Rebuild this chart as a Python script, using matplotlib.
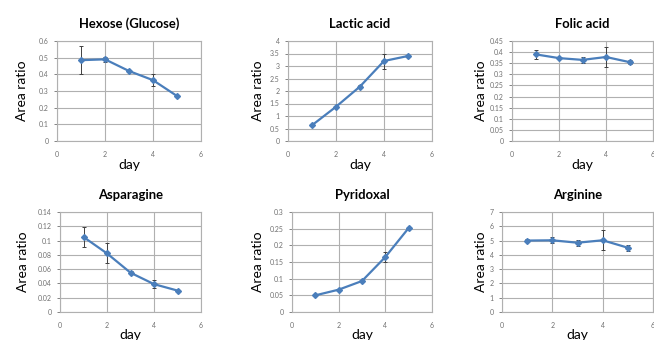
import matplotlib.pyplot as plt
import numpy as np

days = [1, 2, 3, 4, 5]

titles = ['Hexose (Glucose)', 'Lactic acid', 'Folic acid',
          'Asparagine', 'Pyridoxal', 'Arginine']

hexose = [0.485, 0.49, 0.42, 0.365, 0.27]
hexose_err = [0.083, 0.015, 0.008, 0.035, 0.008]
lactic = [0.63, 1.37, 2.18, 3.2, 3.4]
lactic_err = [0.03, 0.04, 0.05, 0.3, 0.05]
folic = [0.39, 0.373, 0.365, 0.378, 0.355]
folic_err = [0.02, 0.005, 0.012, 0.043, 0.01]
asparagine = [0.105, 0.082, 0.055, 0.039, 0.03]
asparagine_err = [0.014, 0.014, 0.002, 0.006, 0.001]
pyridoxal = [0.05, 0.067, 0.093, 0.165, 0.252]
pyridoxal_err = [0.002, 0.002, 0.003, 0.015, 0.003]
arginine = [5.0, 5.02, 4.85, 5.02, 4.5]
arginine_err = [0.08, 0.2, 0.2, 0.7, 0.2]

series = [hexose, lactic, folic, asparagine, pyridoxal, arginine]
errors = [hexose_err, lactic_err, folic_err, asparagine_err, pyridoxal_err, arginine_err]

y_max = [0.6, 4, 0.45, 0.14, 0.3, 7]
y_step = [0.1, 0.5, 0.05, 0.02, 0.05, 1]

# axes boxes in pixels: left, right, top, bottom
W, H = 654, 340
boxes = [(57, 201, 41, 141), (288, 432, 41, 141), (512, 653, 41, 141),
         (60, 201, 212, 312), (292, 432, 212, 312), (502, 653, 212, 312)]
ylabel_x = [22, 258, 481, 23, 258, 481]
day_y = [165, 335]
title_y = [24, 195]

plt.rcParams['font.family'] = ['Lato', 'DejaVu Sans']

fig = plt.figure(figsize=(W / 100, H / 100), dpi=100)

for i in range(6):
    l, r, t, b = boxes[i]
    ax = fig.add_axes([l / W, 1 - b / H, (r - l) / W, (b - t) / H])
    ax.errorbar(days, series[i], yerr=errors[i], color='#4a7ebb', lw=1.6,
                marker='D', ms=3, ecolor='#404040', elinewidth=0.7,
                capsize=1.5, capthick=0.7)
    ax.set_xlim(0, 6)
    ax.set_ylim(0, y_max[i])
    ax.set_xticks([0, 2, 4, 6])
    ticks = np.arange(0, y_max[i] + y_step[i] / 2, y_step[i])
    ax.set_yticks(ticks)
    ax.set_yticklabels(['{:g}'.format(round(v, 3)) for v in ticks])
    ax.grid(True, color='#b0b0b0', linewidth=0.8)
    ax.set_axisbelow(True)
    for s in ax.spines.values():
        s.set_color('#b0b0b0')
        s.set_linewidth(0.8)
    ax.tick_params(labelsize=5, colors='#707070', length=2, width=0.6,
                   pad=4)
    ax.tick_params(axis='x', length=0, pad=7)
    ax.set_title(titles[i], fontsize=9.4, fontweight='bold', pad=0,
                 y=(b - title_y[i // 3]) / (b - t))
    ax.set_ylabel('Area ratio', fontsize=10)
    ax.yaxis.set_label_coords((ylabel_x[i] - l) / (r - l), 0.5)
    ax.set_xlabel('day', fontsize=10)
    ax.xaxis.set_label_coords(0.5, -(day_y[i // 3] - b) / (b - t))
    ax.xaxis.label.set_va('center')
    ax.yaxis.label.set_va('center')
    ax.title.set_va('center')

fig.savefig('out.png', dpi=100)
